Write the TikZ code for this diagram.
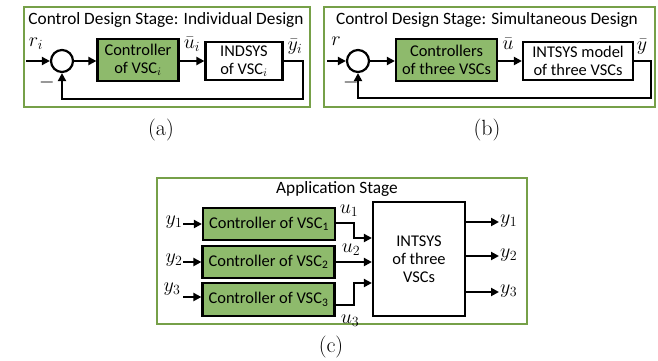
\RequirePackage{fix-cm}
\documentclass[tikz,border=0pt]{standalone}
\usepackage{fontspec}
\newfontfamily\carl{Carlito}
\usetikzlibrary{arrows.meta}
\definecolor{frameg}{RGB}{118,160,72}
\definecolor{boxg}{RGB}{142,186,108}
\begin{document}
\begin{tikzpicture}[x=1pt,y=-1pt,
  sig/.style={line width=2.2pt,-{Triangle[length=8pt,width=8pt]}},
  gbox/.style={draw,line width=2.2pt,fill=boxg,align=center,inner sep=0pt,font=\carl\fontsize{16.4}{18}\selectfont},
  wbox/.style={draw,line width=2.2pt,fill=white,align=center,inner sep=0pt,font=\carl\fontsize{16.4}{18}\selectfont},
  sumc/.style={circle,draw,line width=2.2pt,minimum size=22pt,inner sep=0pt},
  frm/.style={draw=frameg,line width=1.5pt},
  ttl/.style={font=\carl\fontsize{17.3}{20}\selectfont,inner sep=0pt},
  ml/.style={font=\fontsize{20}{22}\selectfont,inner sep=0pt},
  captxt/.style={font=\fontsize{22}{24}\selectfont,inner sep=0pt}]
\useasboundingbox (0,0) rectangle (658,361);
% ---------- panel (a)
\draw[frm] (24,7) rectangle (310,107);
\node[ttl] (ta) at (166,20) {Control Design Stage: Individual Design};
\node[sumc] (sa) at (62,61) {};
\node[gbox,minimum width=81pt,minimum height=42pt] (ca) at (138,60) {Controller\\of VSC$_i$};
\node[wbox,minimum width=77pt,minimum height=38pt] (pa) at (244,61) {INDSYS\\of VSC$_i$};
\coordinate (ina) at (26,61);
\coordinate (fa) at (303,99);
\draw[sig] (ina) -- (sa.west);
\draw[sig] (sa.east) -- (ca.west |- sa.east);
\draw[sig] (ca.east |- pa.west) -- (pa.west);
\draw[sig] (pa.east) -| (fa) -| (sa.south);
\node[ml] (ra) at (36,44) {$r_i$};
\node[ml] (ua) at (192,44) {$\bar u_i$};
\node[ml] (ya) at (295,47) {$\bar y_i$};
\node[ml] (ma) at (47,82) {$-$};
\node[captxt] (capa) at (161,130) {(a)};
% ---------- panel (b)
\draw[frm] (324,7) rectangle (655,107);
\node[ttl] (tb) at (487,20) {Control Design Stage: Simultaneous Design};
\node[sumc] (sb) at (358,61) {};
\node[gbox,minimum width=101pt,minimum height=42pt] (cb) at (446.5,60) {Controllers\\of three VSCs};
\node[wbox,minimum width=110pt,minimum height=38pt] (pb) at (578,61) {INTSYS model\\of three VSCs};
\coordinate (inb) at (327,61);
\coordinate (fb) at (651,98);
\draw[sig] (inb) -- (sb.west);
\draw[sig] (sb.east) -- (cb.west |- sb.east);
\draw[sig] (cb.east |- pb.west) -- (pb.west);
\draw[sig] (pb.east) -| (fb) -| (sb.south);
\node[ml] (rb) at (336,41) {$r$};
\node[ml] (ub) at (508,44) {$\bar u$};
\node[ml] (yb) at (642,47) {$\bar y$};
\node[ml] (mb) at (351,83) {$-$};
\node[captxt] (capb) at (487,130) {(b)};
% ---------- panel (c)
\draw[frm] (157,178) rectangle (527,324);
\node[ttl] (tc) at (337,189) {Application Stage};
\node[gbox,minimum width=132pt,minimum height=32pt] (c1) at (269,224) {Controller of VSC\textsubscript{1}};
\node[gbox,minimum width=132pt,minimum height=32pt] (c2) at (268.5,262) {Controller of VSC\textsubscript{2}};
\node[gbox,minimum width=132pt,minimum height=33pt] (c3) at (268.5,299.5) {Controller of VSC\textsubscript{3}};
\node[wbox,minimum width=92pt,minimum height=114pt] (ps) at (419,259) {INTSYS\\of three\\VSCs};
% inputs
\coordinate (i1) at (183,224);
\coordinate (i2) at (183,262);
\coordinate (i3) at (183,297);
\draw[sig] (i1) -- (c1.west |- i1);
\draw[sig] (i2) -- (c2.west |- i2);
\draw[sig] (i3) -- (c3.west |- i3);
\node[ml] (y1) at (174,222) {$y_1$};
\node[ml] (y2) at (174,260) {$y_2$};
\node[ml] (y3) at (172,289) {$y_3$};
% controller outputs
\coordinate (h1) at (0,223);
\coordinate (k1) at (354,238);
\draw[sig] (c1.east |- h1) -| (k1) -- (ps.west |- k1);
\draw[sig] (c2.east) -- (ps.west |- c2.east);
\coordinate (h3) at (0,305);
\coordinate (k3) at (354,283);
\draw[sig] (c3.east |- h3) -| (k3) -- (ps.west |- k3);
\node[ml] (u1) at (349,211) {$u_1$};
\node[ml] (u2) at (351,250) {$u_2$};
\node[ml] (u3) at (350,321) {$u_3$};
% plant outputs
\coordinate (o1) at (499,222);
\coordinate (o2) at (499,256);
\coordinate (o3) at (499,292);
\draw[sig] (ps.east |- o1) -- (o1);
\draw[sig] (ps.east |- o2) -- (o2);
\draw[sig] (ps.east |- o3) -- (o3);
\node[ml,anchor=west] (z1) at (500,221) {$y_1$};
\node[ml,anchor=west] (z2) at (500,255) {$y_2$};
\node[ml,anchor=west] (z3) at (500,291) {$y_3$};
\node[captxt] (capc) at (331,347) {(c)};
\end{tikzpicture}
\end{document}
